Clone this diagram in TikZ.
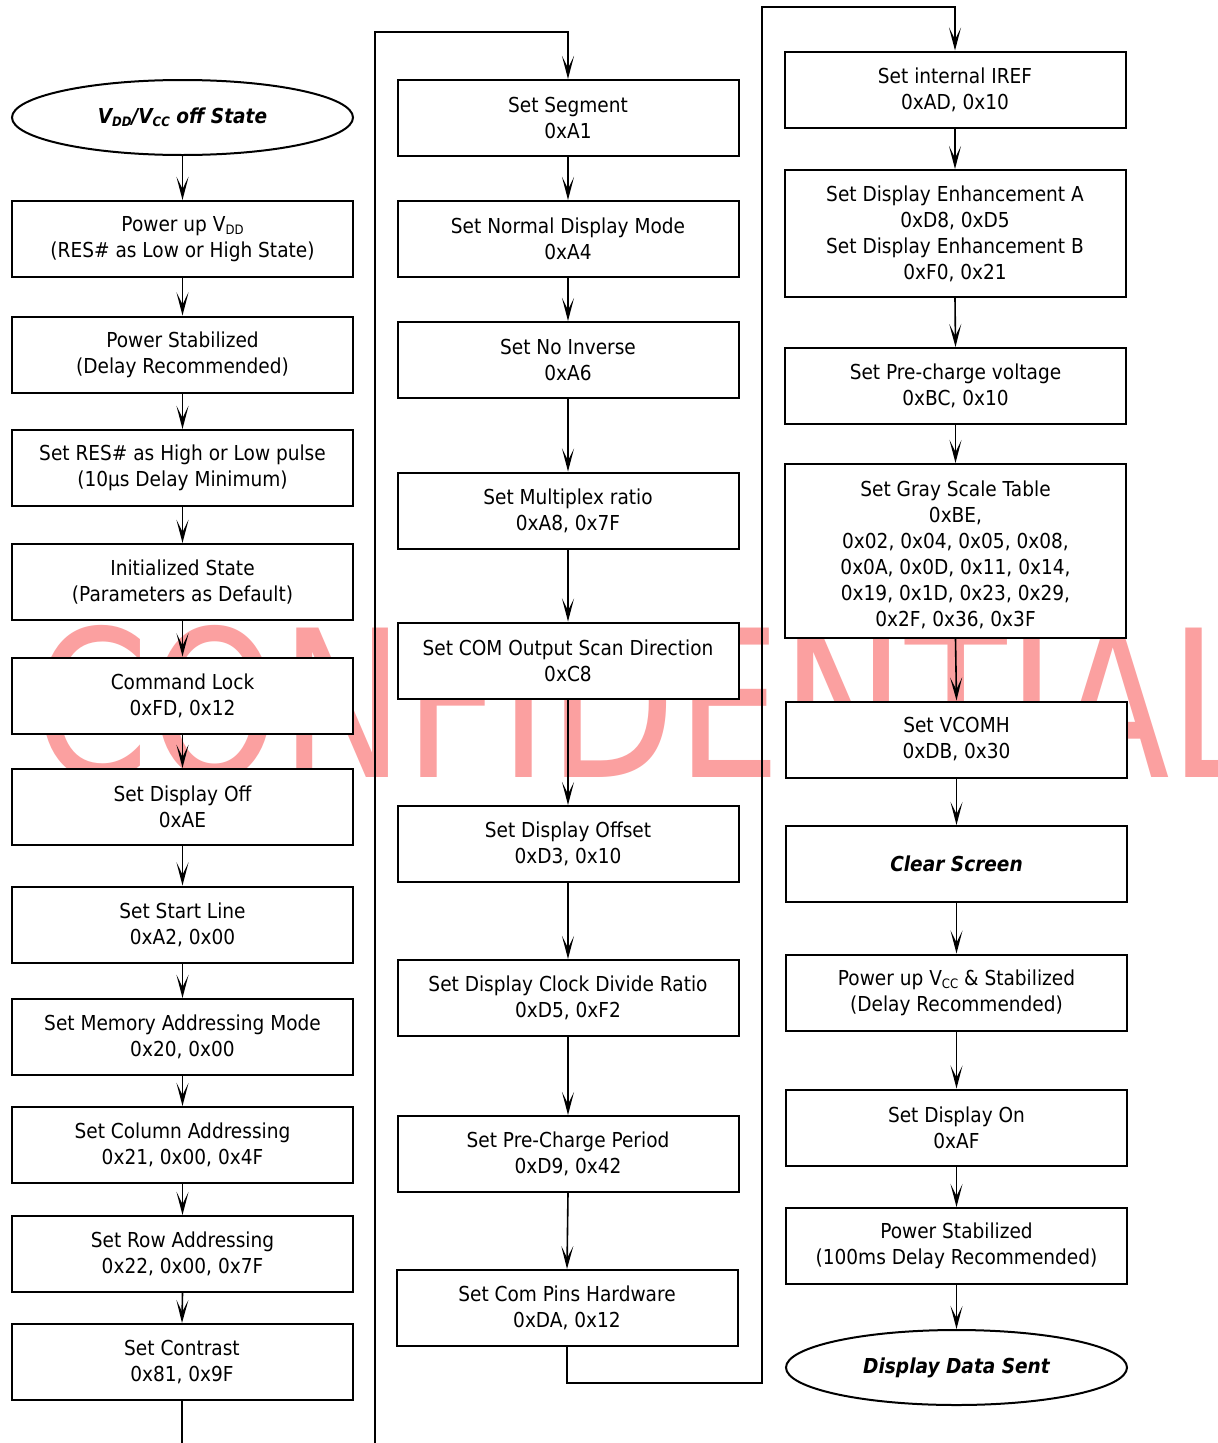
\documentclass[tikz,border=0pt]{standalone}
\usepackage{fontspec}
\usepackage{graphicx}
\setmainfont{DejaVu Sans}[FakeStretch=0.9]
\usetikzlibrary{arrows.meta,shapes.geometric}
\newcommand{\mysub}[1]{\raisebox{-0.3ex}{\fontsize{13}{13}\selectfont #1}}
\definecolor{wmred}{RGB}{251,160,160}
\begin{document}
\begin{tikzpicture}[x=1pt,y=-1pt,
  box/.style={draw, line width=2pt, fill=white, minimum width=341pt, minimum height=76pt, align=center, inner sep=0pt, font=\fontsize{20.6}{26}\selectfont},
  txt/.style={align=center, inner sep=0pt, font=\fontsize{20.6}{26}\selectfont},
  term/.style={ellipse, draw, line width=2pt, fill=white, minimum width=341pt, minimum height=75pt, inner sep=0pt, font=\fontsize{20.6}{26}\selectfont\bfseries\itshape},
  arr/.style={line width=1.6pt, -{Stealth[length=23pt,width=12pt,inset=12pt]}},
  ln/.style={line width=1.6pt}]
\useasboundingbox (0,0) rectangle (1218,1443);
\fill[white] (0,0) rectangle (1218,1443);

% watermark
\node[anchor=base, text=wmred, inner sep=0pt, font=\fontsize{205}{205}\selectfont] (wm) at (648,777) {\scalebox{0.9}[1]{CONFIDENTIAL}};

% column 1
\node[term] (e1) at (182.5,117.5) {\raisebox{-1pt}{V\mysub{DD}/V\mysub{CC} off State}};
\node[box] (b1) at (182.5,239) {Power up V\mysub{DD}\\(RES\# as Low or High State)};
\node[box] (b2) at (182.5,354.5) {Power Stabilized\\(Delay Recommended)};
\node[box] (b3) at (182.5,468) {Set RES\# as High or Low pulse\\(10μs Delay Minimum)};
\node[box] (b4) at (182.5,582) {Initialized State\\(Parameters as Default)};
\node[box] (b5) at (182.5,695.5) {Command Lock\\0xFD, 0x12};
\node[box] (b6) at (182.5,807) {Set Display Off\\0xAE};
\node[box] (b7) at (182.5,924.5) {Set Start Line\\0xA2, 0x00};
\node[box] (b8) at (182.5,1037) {Set Memory Addressing Mode\\0x20, 0x00};
\node[box] (b9) at (182.5,1145) {Set Column Addressing\\0x21, 0x00, 0x4F};
\node[box] (b10) at (182.5,1254) {Set Row Addressing\\0x22, 0x00, 0x7F};
\node[box] (b11) at (182,1362) {Set Contrast\\0x81, 0x9F};
\coordinate (c1end) at (182,1443);

\draw[arr] (e1.south) -- (b1.north);
\draw[arr] (b1.south) -- (b2.north);
\draw[arr] (b2.south) -- (b3.north);
\draw[arr] (b3.south) -- (b4.north);
\draw[arr] (b4.south) -- (b5.north);
\draw[arr] (b5.south) -- (b6.north);
\draw[arr] (b6.south) -- (b7.north);
\draw[arr] (b7.south) -- (b8.north);
\draw[arr] (b8.south) -- (b9.north);
\draw[arr] (b9.south) -- (b10.north);
\draw[arr] (b10.south) -- (b11.north);
\draw[ln] (b11.south) -- (c1end);

% column 2
\node[box] (s1) at (568,118) {Set Segment\\0xA1};
\node[box] (s2) at (568,239) {Set Normal Display Mode\\0xA4};
\node[box] (s3) at (568,360) {Set No Inverse\\0xA6};
\node[box] (s4) at (568,510.5) {Set Multiplex ratio\\0xA8, 0x7F};
\node[box] (s5) at (568,660.5) {Set COM Output Scan Direction\\0xC8};
\node[box] (s6) at (568,844) {Set Display Offset\\0xD3, 0x10};
\node[box] (s7) at (568,998) {Set Display Clock Divide Ratio\\0xD5, 0xF2};
\node[box] (s8) at (568,1154) {Set Pre-Charge Period\\0xD9, 0x42};
\node[box] (s9) at (567,1308) {Set Com Pins Hardware\\0xDA, 0x12};
\coordinate (c2a) at (375,1443);
\coordinate (c2b) at (568,32);

\draw[arr] (c2a) |- (c2b) -- (s1.north);
\draw[arr] (s1.south) -- (s2.north);
\draw[arr] (s2.south) -- (s3.north);
\draw[arr] (s3.south) -- (s4.north);
\draw[arr] (s4.south) -- (s5.north);
\draw[arr] (s5.south) -- (s6.north);
\draw[arr] (s6.south) -- (s7.north);
\draw[arr] (s7.south) -- (s8.north);
\draw[arr] (s8.south) -- (s9.north);

% column 3
\node[box] (t1) at (955,89.5) {Set internal IREF\\0xAD, 0x10};
\node[box, minimum height=127pt] (t2) at (955,233.5) {Set Display Enhancement A\\0xD8, 0xD5\\Set Display Enhancement B\\0xF0, 0x21};
\node[box] (t3) at (955.5,386) {Set Pre-charge voltage\\0xBC, 0x10};
\node[box, minimum height=174pt] (t4) at (955.5,551) {};
\node[txt] (t4txt) at (955.5,555) {Set Gray Scale Table\\0xBE,\\0x02, 0x04, 0x05, 0x08,\\0x0A, 0x0D, 0x11, 0x14,\\0x19, 0x1D, 0x23, 0x29,\\0x2F, 0x36, 0x3F};
\node[box] (t5) at (956.5,739.5) {Set VCOMH\\0xDB, 0x30};
\node[box, font=\fontsize{20.6}{26}\selectfont\bfseries\itshape] (t6) at (956.5,864) {Clear Screen};
\node[box] (t7) at (956.5,992.5) {Power up V\mysub{CC} \& Stabilized\\(Delay Recommended)};
\node[box] (t8) at (956.5,1127.5) {Set Display On\\0xAF};
\node[box] (t9) at (956.5,1246) {Power Stabilized\\(100ms Delay Recommended)};
\node[term] (t10) at (956.5,1367.5) {Display Data Sent};
\coordinate (c3a) at (762,1383);
\coordinate (c3b) at (955,7);

\draw[arr] (s9.south) |- (c3a) |- (c3b) -- (t1.north);
\draw[arr] (t1.south) -- (t2.north);
\draw[arr] (t2.south) -- (t3.north);
\draw[arr] (t3.south) -- (t4.north);
\draw[arr] (t4.south) -- (t5.north);
\draw[arr] (t5.south) -- (t6.north);
\draw[arr] (t6.south) -- (t7.north);
\draw[arr] (t7.south) -- (t8.north);
\draw[arr] (t8.south) -- (t9.north);
\draw[arr] (t9.south) -- (t10.north);
\end{tikzpicture}
\end{document}
